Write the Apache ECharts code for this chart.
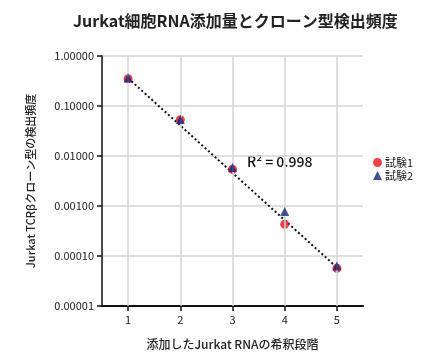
<!DOCTYPE html>
<html><head><meta charset="utf-8">
<script src="https://cdn.jsdelivr.net/npm/echarts@6/dist/echarts.min.js"></script>
<style>html,body{margin:0;padding:0;background:#fff}#c{width:436px;height:355px}</style>
</head><body><div id="c"></div>
<script>
const titleText = 'Jurkat細胞RNA添加量とクローン型検出頻度';
const xName = '添加したJurkat RNAの希釈段階';
const yName = 'Jurkat TCRβクローン型の検出頻度';
const dilutionSteps = [1, 2, 3, 4, 5];
const trial1 = [0.35, 0.053, 0.0054, 0.00043, 0.000057];
const trial2 = [0.365, 0.054, 0.0059, 0.00078, 0.000063];
const trendX = [1, 5];
const trendY = [0.36, 0.000059];
const r2Text = 'R² = 0.998';
const seriesNames = ['試験1', '試験2'];

const font = '"Noto Sans CJK JP", "Noto Sans", sans-serif';
const chart = echarts.init(document.getElementById('c'));
chart.setOption({
  animation: false,
  textStyle: { fontFamily: font },
  title: {
    text: titleText, left: 68, top: 8,
    textStyle: { fontFamily: font, fontSize: 16, fontWeight: 'bold', color: '#222' }
  },
  legend: {
    orient: 'vertical', left: 373, top: 157, padding: 0, itemGap: 2, itemWidth: 9, itemHeight: 9,
    textStyle: { fontFamily: font, fontSize: 11, lineHeight: 10, color: '#222', padding: [0, 0, 0, -2] },
    data: [{ name: seriesNames[0], icon: 'circle' }, { name: seriesNames[1], icon: 'triangle' }]
  },
  grid: { left: 102, right: 73, top: 56, bottom: 48 },
  xAxis: {
    type: 'value', min: 0.5, max: 5.5,
    name: xName, nameLocation: 'middle', nameGap: 32,
    nameTextStyle: { fontFamily: font, fontSize: 12, fontWeight: 500, color: '#222' },
    axisLine: { show: true, lineStyle: { color: '#111', width: 2 } },
    axisTick: { show: true, customValues: dilutionSteps, inside: false, length: 5, lineStyle: { color: '#111', width: 1.5 } },
    axisLabel: { customValues: dilutionSteps, fontSize: 11, color: '#222', margin: 8, fontFamily: font },
    splitLine: { show: false }
  },
  yAxis: {
    type: 'log', logBase: 10, min: 0.00001, max: 1,
    name: yName, nameLocation: 'middle', nameGap: 66,
    nameTextStyle: { fontFamily: font, fontSize: 11, fontWeight: 500, color: '#222' },
    axisLine: { show: true, lineStyle: { color: '#111', width: 1.5 } },
    axisTick: { show: true, length: 5, lineStyle: { color: '#111', width: 1.5 } },
    axisLabel: { fontSize: 11, color: '#222', margin: 8, fontFamily: font,
      formatter: v => Number(v).toFixed(5) },
    splitLine: { show: true, lineStyle: { color: '#d4d4d4', width: 1.5 } }
  },
  series: [
    {
      name: 'trend', type: 'line', symbol: 'none', silent: true,
      data: trendX.map((x, i) => [x, trendY[i]]),
      lineStyle: { color: '#111', width: 2, type: [2, 2.5] },
      markLine: {
        silent: true, symbol: 'none', label: { show: false },
        lineStyle: { color: '#d4d4d4', width: 1.5, type: 'solid' },
        data: dilutionSteps.map(x => ({ xAxis: x }))
      },
      z: 3
    },
    {
      name: seriesNames[0], type: 'scatter', symbol: 'circle', symbolSize: 9,
      data: dilutionSteps.map((x, i) => [x, trial1[i]]),
      itemStyle: { color: '#e8141c' }, z: 4
    },
    {
      name: seriesNames[1], type: 'scatter', symbol: 'triangle', symbolSize: 9,
      data: dilutionSteps.map((x, i) => [x, trial2[i]]),
      itemStyle: { color: '#16237a' }, z: 5
    }
  ],
  graphic: [{
    type: 'text', left: 247, top: 155,
    style: { text: r2Text, fontFamily: font, fontSize: 14, fontWeight: 500, fill: '#111' }
  }]
});
</script></body></html>
